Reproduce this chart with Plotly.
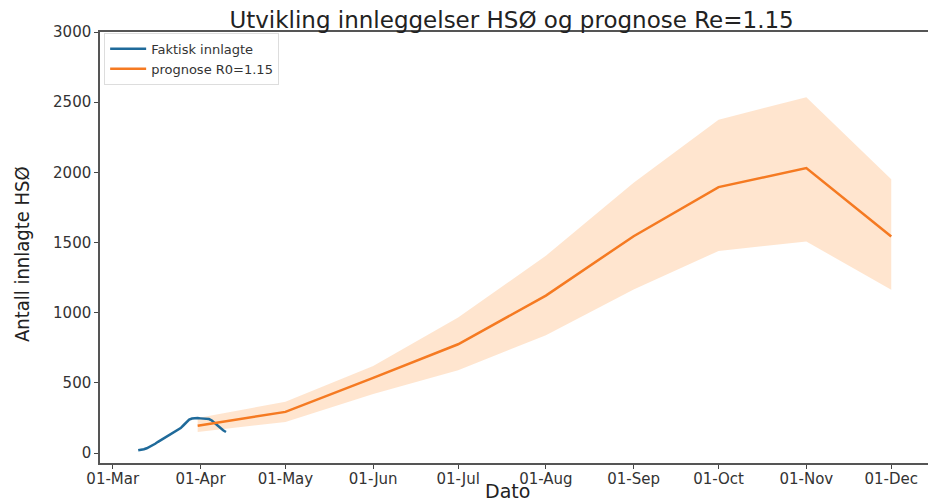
import plotly.graph_objects as go

# Actual hospitalisations (daily)
actual_dates = [
    "2020-03-10", "2020-03-11", "2020-03-12", "2020-03-13", "2020-03-14", "2020-03-15",
    "2020-03-16", "2020-03-17", "2020-03-18", "2020-03-19", "2020-03-20", "2020-03-21",
    "2020-03-22", "2020-03-23", "2020-03-24", "2020-03-25", "2020-03-26", "2020-03-27",
    "2020-03-28", "2020-03-29", "2020-03-30", "2020-03-31", "2020-04-01", "2020-04-02",
    "2020-04-03", "2020-04-04", "2020-04-05", "2020-04-06", "2020-04-07", "2020-04-08",
    "2020-04-09", "2020-04-10",
]
actual_values = [20, 22, 27, 34, 44, 56, 66, 80, 92, 104, 118, 132, 142, 152, 164, 178,
                 198, 222, 238, 246, 250, 249, 247, 245, 244, 242, 232, 214, 196, 178, 162, 150]

# Prognosis
prog_dates = ["2020-03-31", "2020-05-01", "2020-06-01", "2020-07-01", "2020-08-01",
              "2020-09-01", "2020-10-01", "2020-11-01", "2020-12-01"]
prog_values = [195, 293, 535, 775, 1122, 1545, 1895, 2030, 1543]
prog_upper = [250, 365, 620, 965, 1405, 1925, 2375, 2535, 1950]
prog_lower = [150, 222, 420, 590, 840, 1165, 1440, 1507, 1164]

tick_vals = ["2020-03-01", "2020-04-01", "2020-05-01", "2020-06-01", "2020-07-01",
             "2020-08-01", "2020-09-01", "2020-10-01", "2020-11-01", "2020-12-01"]
tick_text = ["01-Mar", "01-Apr", "01-May", "01-Jun", "01-Jul", "01-Aug", "01-Sep",
             "01-Oct", "01-Nov", "01-Dec"]
y_ticks = [0, 500, 1000, 1500, 2000, 2500, 3000]

fig = go.Figure()
fig.add_trace(go.Scatter(x=prog_dates, y=prog_lower, mode="lines", line=dict(width=0),
                         showlegend=False, hoverinfo="skip"))
fig.add_trace(go.Scatter(x=prog_dates, y=prog_upper, mode="lines", line=dict(width=0),
                         fill="tonexty", fillcolor="rgba(255,127,14,0.2)",
                         showlegend=False, hoverinfo="skip"))
fig.add_trace(go.Scatter(x=actual_dates, y=actual_values, mode="lines",
                         name="Faktisk innlagte", line=dict(color="#1f6a9a", width=2.5)))
fig.add_trace(go.Scatter(x=prog_dates, y=prog_values, mode="lines",
                         name="prognose R0=1.15", line=dict(color="#f57a22", width=2.5)))

axis_font = dict(family="DejaVu Sans", size=15, color="#333333")
fig.update_layout(
    width=936, height=504,
    margin=dict(l=92, r=15, t=24, b=49, autoexpand=False),
    plot_bgcolor="white", paper_bgcolor="white",
    title=dict(text="Utvikling innleggelser HSØ og prognose Re=1.15",
               font=dict(family="DejaVu Sans", size=23, color="#222222"),
               x=0.538, xanchor="center", y=0.976, yanchor="middle"),
    xaxis=dict(range=["2020-02-25 12:00", "2020-12-14 08:00"], automargin=False,
               tickvals=tick_vals, ticktext=tick_text, tickfont=axis_font,
               ticks="outside", ticklen=4, tickcolor="#444", showgrid=False,
               showline=True, linecolor="#555", linewidth=1.5, mirror=True,
               zeroline=False, ticklabelstandoff=-3),
    yaxis=dict(range=[-71, 3000], automargin=False,
               tickvals=y_ticks, tickfont=axis_font,
               ticks="outside", ticklen=4, tickcolor="#444", showgrid=False,
               showline=True, linecolor="#555", linewidth=1.5, mirror=True,
               zeroline=False),
    legend=dict(x=0.005, y=0.998, xanchor="left", yanchor="top", traceorder="normal",
                bgcolor="rgba(255,255,255,0.9)", bordercolor="#dddddd", borderwidth=1,
                font=dict(family="DejaVu Sans", size=13, color="#333"),
                tracegroupgap=0, itemwidth=36),
    annotations=[
        dict(text="Dato", xref="paper", yref="paper", x=0.492, y=-0.066,
             xanchor="center", yanchor="middle", showarrow=False,
             font=dict(family="DejaVu Sans", size=19, color="#222")),
        dict(text="Antall innlagte HSØ", xref="paper", yref="paper", x=-0.094, y=0.485,
             xanchor="center", yanchor="middle", showarrow=False, textangle=-90,
             font=dict(family="Liberation Sans Narrow, DejaVu Sans Condensed, sans-serif",
                       size=20, color="#222")),
    ],
)

fig.write_html("out.html")
